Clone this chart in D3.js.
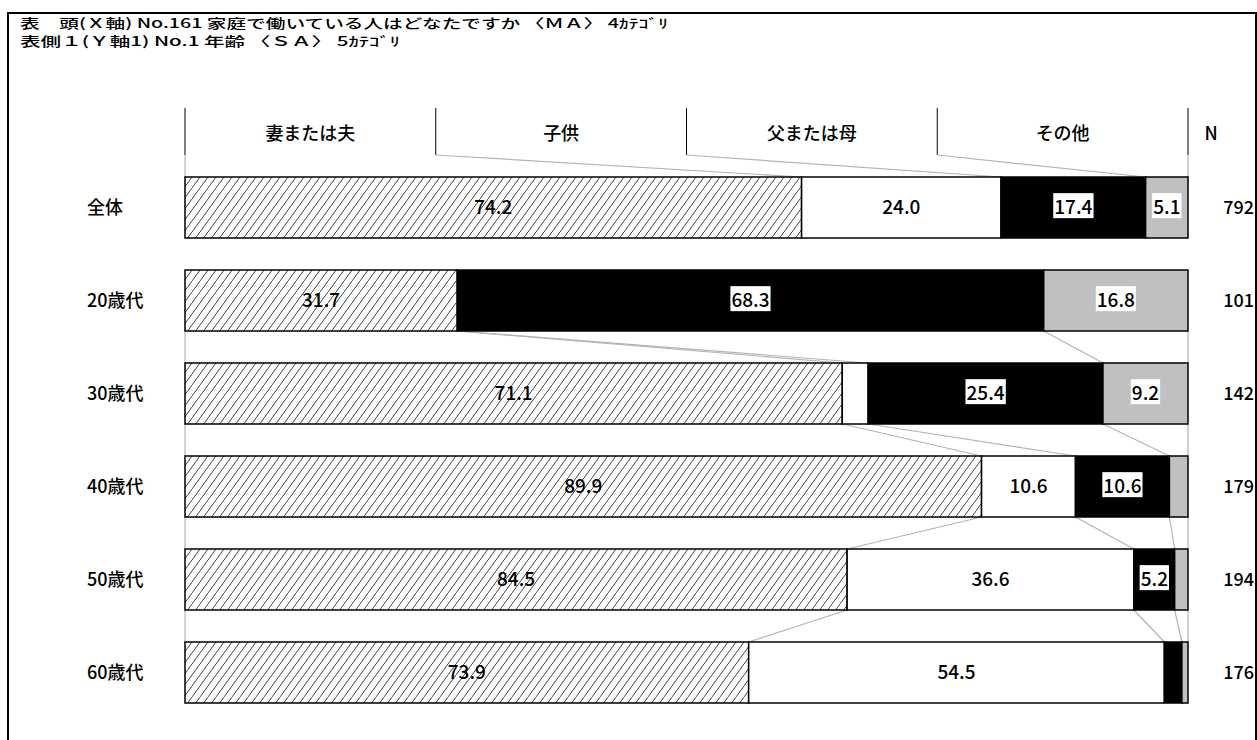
<!DOCTYPE html>
<html>
<head>
<meta charset="utf-8">
<script src="https://cdn.jsdelivr.net/npm/d3@7"></script>
<style>
  body { margin: 0; background: #fff; }
  text { font-family: "Noto Sans CJK JP", sans-serif; fill: #000; font-weight: 500; }
</style>
</head>
<body>
<svg id="chart" width="1257" height="740"></svg>
<script>
const titleLines = [
  "表　頭(Ｘ軸) No.161 家庭で働いている人はどなたですか 〈ＭＡ〉 4ｶﾃｺﾞﾘ",
  "表側１(Ｙ軸1) No.1 年齢 〈ＳＡ〉 5ｶﾃｺﾞﾘ"
];
const categories = ["妻または夫", "子供", "父または母", "その他"];
const rows = ["全体", "20歳代", "30歳代", "40歳代", "50歳代", "60歳代"];
const nValues = [792, 101, 142, 179, 194, 176];
const wifeHusband = [74.2, 31.7, 71.1, 89.9, 84.5, 73.9];
const child = [24.0, 0.0, 2.8, 10.6, 36.6, 54.5];
const parent = [17.4, 68.3, 25.4, 10.6, 5.2, 2.3];
const other = [5.1, 16.8, 9.2, 2.1, 1.7, 0.8];

const series = [wifeHusband, child, parent, other];
const fills = ["url(#hatch)", "#fff", "#000", "#c0c0c0"];

const svg = d3.select("#chart");

const defs = svg.append("defs");
const pat = defs.append("pattern")
  .attr("id", "hatch")
  .attr("patternUnits", "userSpaceOnUse")
  .attr("width", 8).attr("height", 11);
pat.append("rect").attr("width", 8).attr("height", 11).attr("fill", "#fff");
pat.append("line")
  .attr("x1", 0).attr("y1", 11).attr("x2", 8).attr("y2", 0)
  .attr("stroke", "#444").attr("stroke-width", 1);

// frame
svg.append("rect")
  .attr("x", 8).attr("y", 13).attr("width", 1248).attr("height", 760)
  .attr("fill", "none").attr("stroke", "#000").attr("stroke-width", 2);

// title
svg.selectAll("text.title")
  .data(titleLines)
  .join("text")
  .attr("class", "title")
  .attr("x", 20)
  .attr("y", (d, i) => 28 + i * 18)
  .attr("font-size", 13)
  .attr("textLength", (d, i) => i === 0 ? 648 : 380)
  .attr("lengthAdjust", "spacingAndGlyphs")
  .text(d => d);

const x = d3.scaleLinear().domain([0, 1]).range([185, 1188]);
const y = d3.scaleBand().domain(rows).range([177, 703]).paddingInner(32 / 93).paddingOuter(0);
const col = d3.scaleBand().domain(categories).range([185, 1188]);

// stacked shares
const stacks = rows.map((r, i) => {
  const vals = series.map(s => s[i]);
  const total = d3.sum(vals);
  let acc = 0;
  return vals.map((v, k) => {
    const seg = { row: r, k, v, x0: acc / total, x1: (acc + v) / total };
    acc += v;
    return seg;
  });
});

// header
const headTop = 108, headBot = 155;
const seps = [...categories.map(c => col(c)), 1188];
svg.selectAll("line.sep")
  .data(seps)
  .join("line")
  .attr("x1", d => d).attr("x2", d => d)
  .attr("y1", headTop).attr("y2", headBot)
  .attr("stroke", "#000").attr("stroke-width", 1);

svg.selectAll("text.head")
  .data(categories)
  .join("text")
  .attr("x", d => col(d) + col.bandwidth() / 2)
  .attr("y", 134)
  .attr("dy", "0.35em")
  .attr("text-anchor", "middle")
  .attr("font-size", 18)
  .text(d => d);

svg.append("text")
  .attr("x", 1211).attr("y", 134).attr("dy", "0.35em")
  .attr("text-anchor", "middle").attr("font-size", 18).text("N");

// connectors
const conn = svg.append("g").attr("stroke", "#b4b4b4").attr("stroke-width", 1.2);
const bounds = st => [st[0].x0, ...st.map(s => s.x1)];
bounds(stacks[0]).forEach((b, j) => {
  conn.append("line")
    .attr("x1", seps[j]).attr("y1", headBot)
    .attr("x2", x(b)).attr("y2", y(rows[0]));
});
for (let i = 1; i < rows.length - 1; i++) {
  const a = bounds(stacks[i]), b = bounds(stacks[i + 1]);
  a.forEach((v, j) => {
    conn.append("line")
      .attr("x1", x(v)).attr("y1", y(rows[i]) + y.bandwidth())
      .attr("x2", x(b[j])).attr("y2", y(rows[i + 1]));
  });
}

// bars
const rowG = svg.selectAll("g.row")
  .data(stacks)
  .join("g")
  .attr("transform", d => `translate(0,${y(d[0].row)})`);

rowG.selectAll("rect")
  .data(d => d.filter(s => s.v > 0))
  .join("rect")
  .attr("x", d => x(d.x0))
  .attr("width", d => x(d.x1) - x(d.x0))
  .attr("height", y.bandwidth())
  .attr("fill", d => fills[d.k])
  .attr("stroke", "#000")
  .attr("stroke-width", 1.5);

// value labels
rowG.each(function (d) {
  const g = d3.select(this);
  d.filter(s => x(s.x1) - x(s.x0) >= 30).forEach(s => {
    const cx = (x(s.x0) + x(s.x1)) / 2;
    const t = g.append("text")
      .attr("x", cx).attr("y", y.bandwidth() / 2).attr("dy", "0.35em")
      .attr("text-anchor", "middle").attr("font-size", 19)
      .text(s.v.toFixed(1));
    if (s.k > 0) {
      const bb = t.node().getBBox();
      g.insert("rect", () => t.node())
        .attr("x", bb.x - 1).attr("y", bb.y + 1)
        .attr("width", bb.width + 2).attr("height", bb.height - 2)
        .attr("fill", "#fff");
    }
  });
});

// row labels
svg.selectAll("text.rowlab")
  .data(rows)
  .join("text")
  .attr("x", 87)
  .attr("y", d => y(d) + y.bandwidth() / 2)
  .attr("dy", "0.35em")
  .attr("font-size", 18)
  .text(d => d);

// N values
svg.selectAll("text.nval")
  .data(nValues)
  .join("text")
  .attr("x", 1254)
  .attr("y", (d, i) => y(rows[i]) + y.bandwidth() / 2)
  .attr("dy", "0.35em")
  .attr("text-anchor", "end")
  .attr("font-size", 18)
  .text(d => d);
</script>
</body>
</html>
